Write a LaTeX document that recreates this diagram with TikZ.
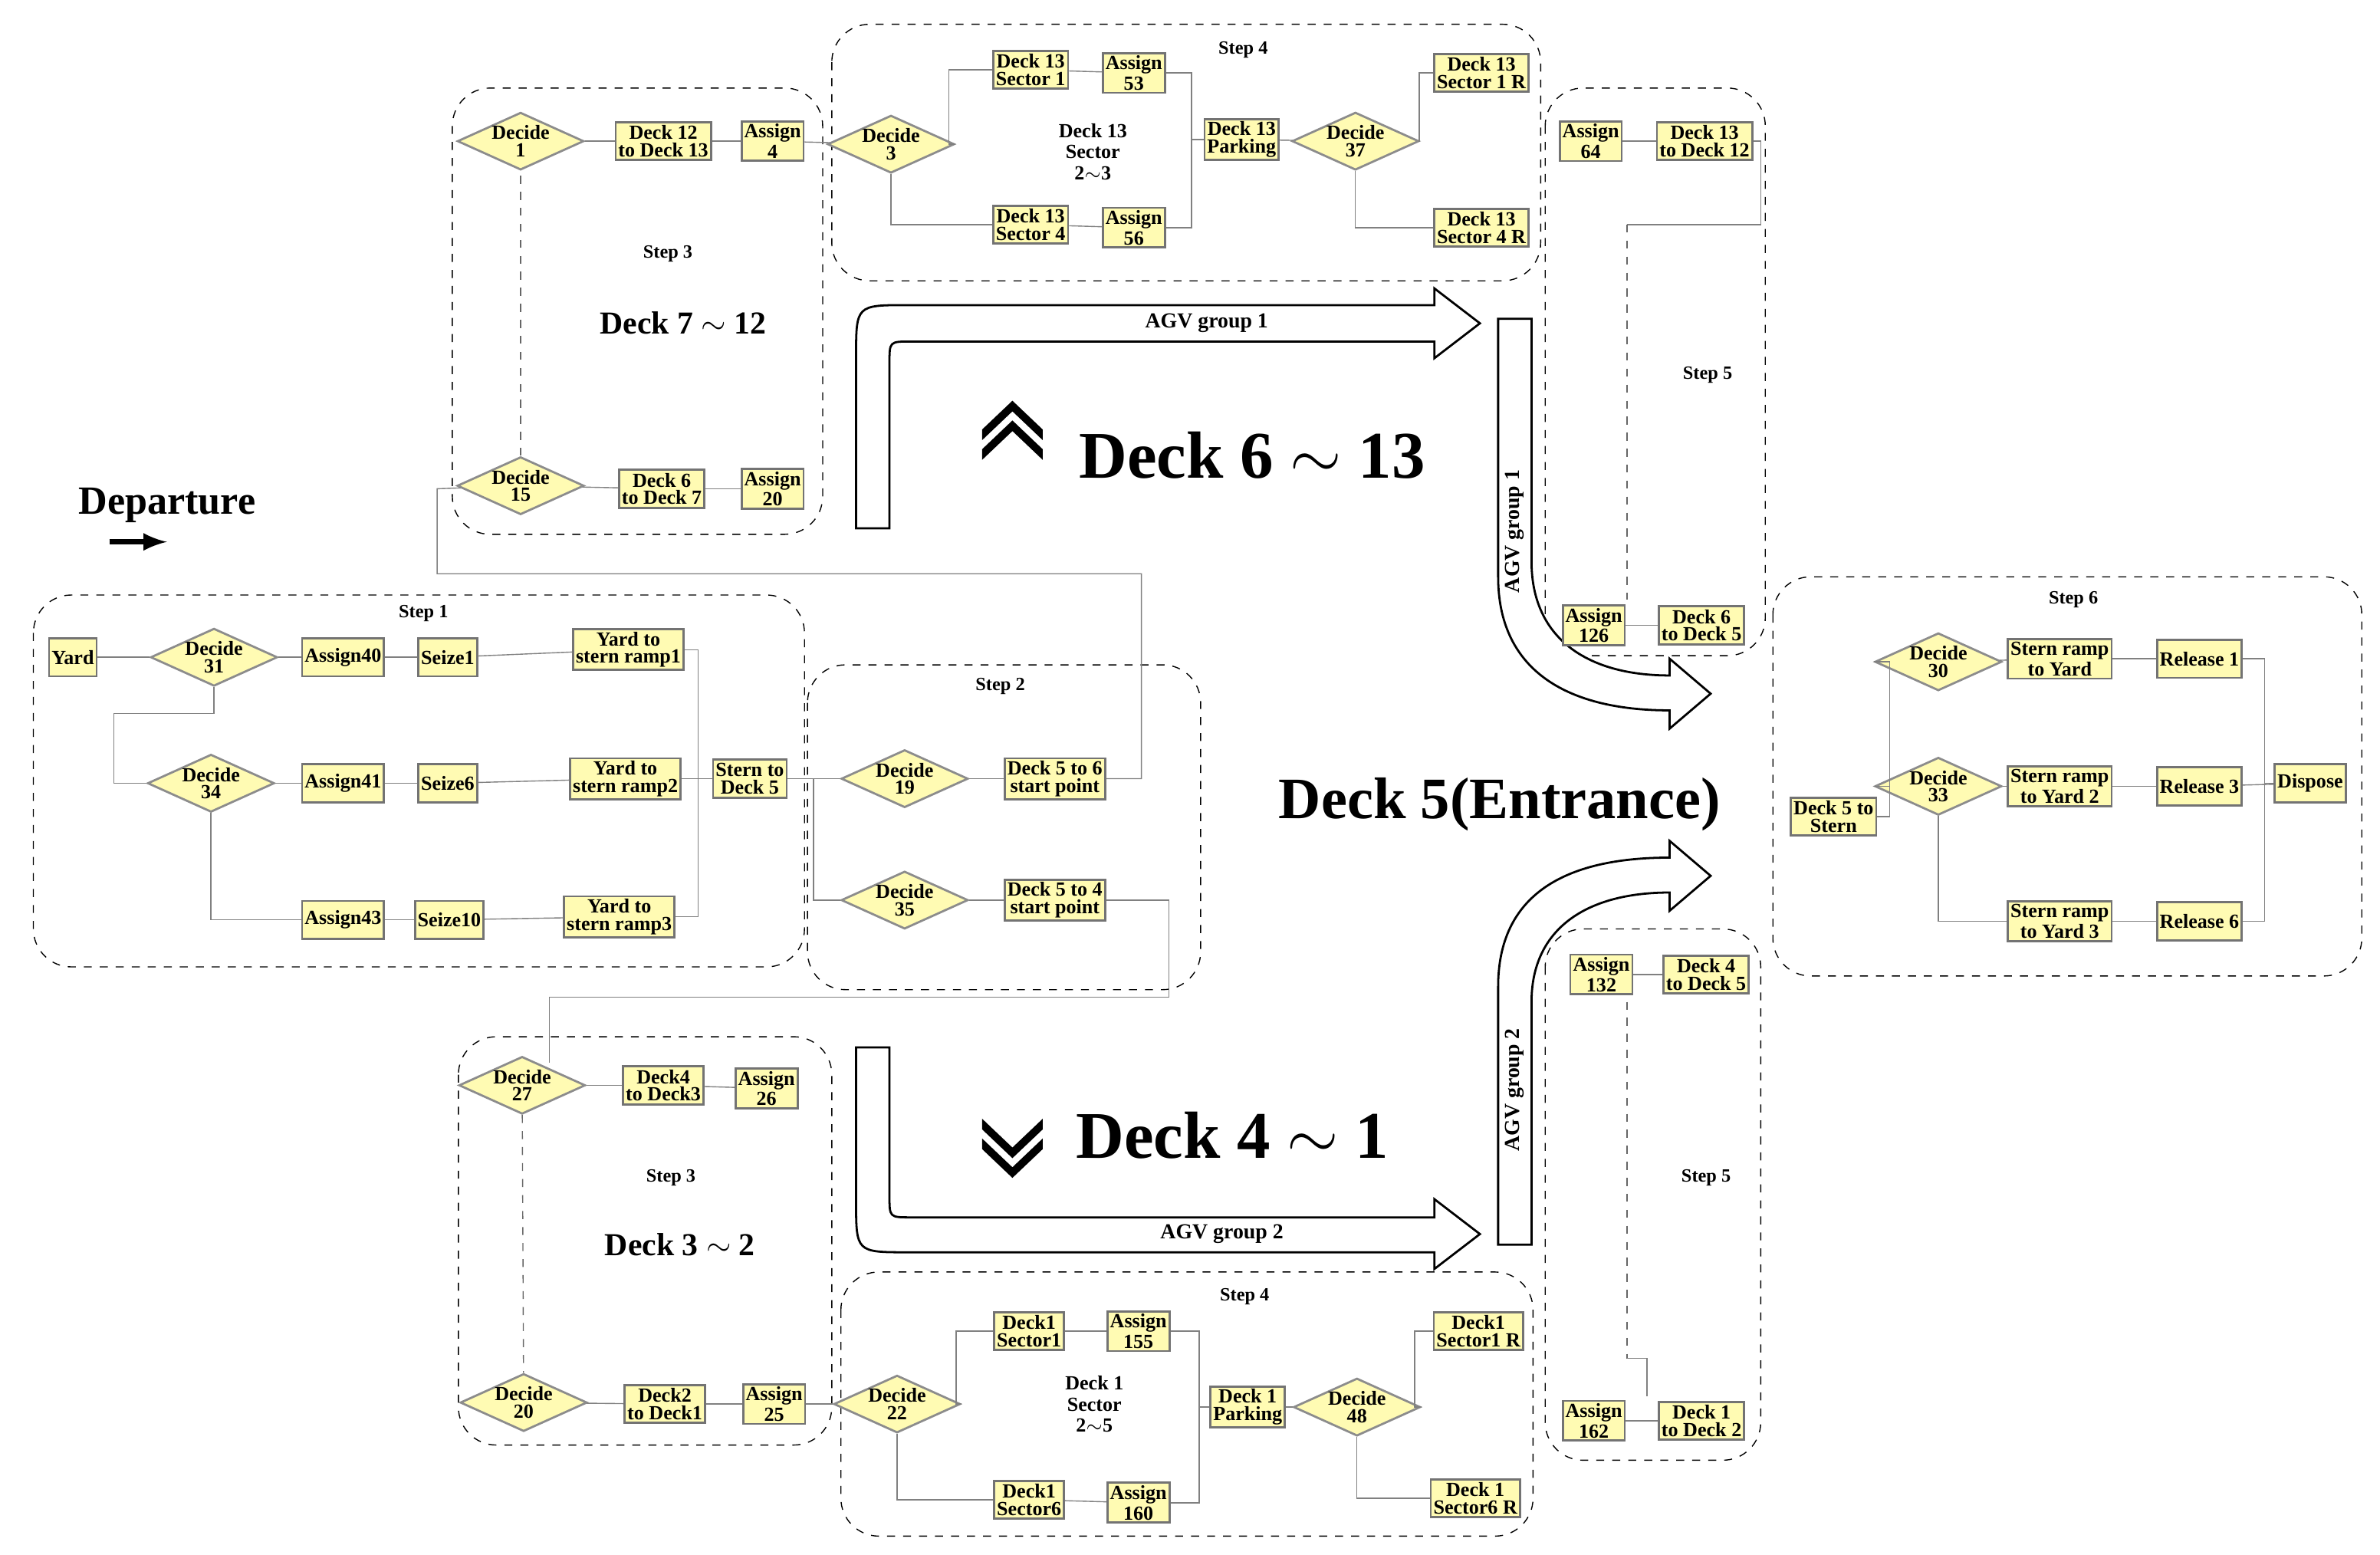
\documentclass[tikz,border=0pt]{standalone}
\usepackage{fontspec}
\setmainfont{Liberation Serif}
\usetikzlibrary{positioning}
\usetikzlibrary{shapes.geometric}
\tikzset{
  module/.style   = { rectangle, draw=black!55, thick, fill=yellow!30, inner sep=1pt,
                      minimum height=0.5cm, align=center, font=\fontsize{7.5}{6.5}\selectfont\bfseries },
  decide/.style   = { diamond, aspect=2.2, draw=black!45, thick, fill=yellow!30, inner sep=0pt,
                      minimum width=1.15cm, minimum height=0.7cm, align=center,
                      font=\fontsize{7.5}{6.5}\selectfont\bfseries },
  sector/.style   = { align=center, inner sep=0pt, font=\fontsize{7.5}{8}\selectfont\bfseries },
  group/.style    = { draw=black, dashed, rounded corners=5mm },
  steplbl/.style  = { font=\fontsize{7}{7}\selectfont\bfseries },
  bigtxt/.style   = { font=\fontsize{25}{25}\selectfont\bfseries },
  midtxt/.style   = { font=\fontsize{12}{12}\selectfont\bfseries },
  link/.style     = { draw=black!50, thin },
  dlink/.style    = { draw=black!60, thin, dashed },
  agv/.style      = { draw=black, thick, fill=white },
}
\begin{document}
\begin{tikzpicture}[x=0.02cm, y=-0.02cm]
  \useasboundingbox (0,0) rectangle (1568,1024);

  % groups
  \draw [group] (22,392)   rectangle (530,637);
  \draw [group] (532,438)  rectangle (791,652);
  \draw [group] (298,58)   rectangle (542,352);
  \draw [group] (548,16)   rectangle (1015,185);
  \draw [group] (1018,58)  rectangle (1163,432);
  \draw [group] (1168,380) rectangle (1556,643);
  \draw [group] (302,683)  rectangle (548,952);
  \draw [group] (554,838)  rectangle (1010,1012);
  \draw [group] (1018,612) rectangle (1160,962);

  \node [steplbl] at (279,404)  {Step 1};
  \node [steplbl] at (659,452)  {Step 2};
  \node [steplbl] at (440,167)  {Step 3};
  \node [steplbl] at (819,33)   {Step 4};
  \node [steplbl] at (1125,247) {Step 5};
  \node [steplbl] at (1366,395) {Step 6};
  \node [steplbl] at (442,776)  {Step 3};
  \node [steplbl] at (820,854)  {Step 4};
  \node [steplbl] at (1124,776) {Step 5};

  % AGV arrows
  \draw [agv] (564,348) -- (564,235) .. controls (564,201) .. (598,201) -- (945,201) -- (945,190)
      -- (975,213) -- (945,236) -- (945,225) -- (600,225) .. controls (586,225) .. (586,239) -- (586,348) -- cycle;
  \draw [agv] (987,210) -- (987,380) .. controls (987,440) and (1030,468) .. (1100,468) -- (1100,480)
      -- (1127,457) -- (1100,434) -- (1100,445) .. controls (1045,445) and (1009,420) .. (1009,370) -- (1009,210) -- cycle;
  \draw [agv] (564,690) -- (564,791) .. controls (564,825) .. (598,825) -- (945,825) -- (945,836)
      -- (975,813) -- (945,790) -- (945,802) -- (600,802) .. controls (586,802) .. (586,788) -- (586,690) -- cycle;
  \draw [agv] (987,820) -- (987,650) .. controls (987,590) and (1030,565) .. (1100,565) -- (1100,554)
      -- (1127,577) -- (1100,600) -- (1100,588) .. controls (1045,588) and (1009,612) .. (1009,660) -- (1009,820) -- cycle;
  \node [steplbl,font=\fontsize{8}{8}\selectfont\bfseries] at (795,213) {AGV group 1};
  \node [steplbl,font=\fontsize{8}{8}\selectfont\bfseries] at (805,813) {AGV group 2};
  \node [steplbl,font=\fontsize{8}{8}\selectfont\bfseries,rotate=90] at (998,350) {AGV group 1};
  \node [steplbl,font=\fontsize{8}{8}\selectfont\bfseries,rotate=90] at (998,718) {AGV group 2};

  % big texts
  \node [bigtxt] at (825,300) {Deck 6 $\sim$ 13};
  \node [bigtxt] at (812,748) {Deck 4 $\sim$ 1};
  \node [bigtxt,font=\fontsize{22}{22}\selectfont\bfseries] at (988,530) {Deck 5(Entrance)};
  \node [midtxt] at (450,213) {Deck 7 $\sim$ 12};
  \node [midtxt] at (448,820) {Deck 3 $\sim$ 2};
  \node [midtxt,font=\fontsize{15}{15}\selectfont\bfseries] (dep) at (110,333) {Departure};
  \draw [-latex, line width=2pt] (72,357) -- (110,357);
  \foreach \dy in {0,13} {
    \fill (647,{303-\dy}) -- (667,{284-\dy}) -- (687,{303-\dy}) -- (687,{296-\dy}) -- (667,{277-\dy}) -- (647,{296-\dy}) -- cycle;
    \fill (647,{737+\dy}) -- (667,{756+\dy}) -- (687,{737+\dy}) -- (687,{744+\dy}) -- (667,{763+\dy}) -- (647,{744+\dy}) -- cycle;
  }

  % step 1
  \node (yard) [module] at (48,433)  {Yard};
  \node (d31)  [decide] at (141,433) {Decide\\31};
  \node (a40)  [module] at (226,433) {Assign40};
  \node (s1)   [module] at (295,433) {Seize1};
  \node (yr1)  [module] at (414,428) {Yard to\\stern ramp1};
  \node (d34)  [decide] at (139,516) {Decide\\34};
  \node (a41)  [module] at (226,516) {Assign41};
  \node (s6)   [module] at (295,516) {Seize6};
  \node (yr2)  [module] at (412,513) {Yard to\\stern ramp2};
  \node (a43)  [module] at (226,606) {Assign43};
  \node (s10)  [module] at (296,606) {Seize10};
  \node (yr3)  [module] at (408,604) {Yard to\\stern ramp3};
  \node (sd5)  [module] at (494,513) {Stern to\\Deck 5};

  % step 2
  \node (d19)  [decide] at (596,513) {Decide\\19};
  \node (d56)  [module] at (695,513) {Deck 5 to 6\\start point};
  \node (d35)  [decide] at (596,593) {Decide\\35};
  \node (d54)  [module] at (695,593) {Deck 5 to 4\\start point};

  % step 3 top
  \node (d1)   [decide] at (343,93)  {Decide\\1};
  \node (t1213)[module] at (437,93)  {Deck 12\\to Deck 13};
  \node (a4)   [module] at (509,93)  {Assign\\4};
  \node (d15)  [decide] at (343,320) {Decide\\15};
  \node (t67)  [module] at (436,322) {Deck 6\\to Deck 7};
  \node (a20)  [module] at (509,322) {Assign\\20};

  % step 4 top
  \node (d3)   [decide] at (587,95)  {Decide\\3};
  \node (s131) [module] at (679,46)  {Deck 13\\Sector 1};
  \node (a53)  [module] at (747,48)  {Assign\\53};
  \node (sec13)[sector] at (720,100) {Deck 13\\Sector\\2$\sim$3};
  \node (s134) [module] at (679,148) {Deck 13\\Sector 4};
  \node (a56)  [module] at (747,150) {Assign\\56};
  \node (p13)  [module] at (818,92)  {Deck 13\\Parking};
  \node (d37)  [decide] at (893,93)  {Decide\\37};
  \node (r131) [module] at (976,48)  {Deck 13\\Sector 1 R};
  \node (r134) [module] at (976,150) {Deck 13\\Sector 4 R};

  % step 5 top
  \node (a64)  [module] at (1048,93)  {Assign\\64};
  \node (t1312)[module] at (1123,93)  {Deck 13\\to Deck 12};
  \node (a126) [module] at (1050,412) {Assign\\126};
  \node (t65)  [module] at (1121,412) {Deck 6\\to Deck 5};

  % step 6
  \node (d5s)  [module] at (1208,538) {Deck 5 to\\Stern};
  \node (d30)  [decide] at (1277,436) {Decide\\30};
  \node (sy1)  [module] at (1357,434) {Stern ramp\\to Yard};
  \node (rl1)  [module] at (1449,434) {Release 1};
  \node (d33)  [decide] at (1277,518) {Decide\\33};
  \node (sy2)  [module] at (1357,518) {Stern ramp\\to Yard 2};
  \node (rl3)  [module] at (1449,518) {Release 3};
  \node (disp) [module] at (1522,516) {Dispose};
  \node (sy3)  [module] at (1357,607) {Stern ramp\\to Yard 3};
  \node (rl6)  [module] at (1449,607) {Release 6};

  % step 3 bottom
  \node (d27)  [decide] at (344,715) {Decide\\27};
  \node (t43)  [module] at (437,715) {Deck4\\to Deck3};
  \node (a26)  [module] at (505,717) {Assign\\26};
  \node (d20)  [decide] at (345,924) {Decide\\20};
  \node (t21)  [module] at (438,925) {Deck2\\to Deck1};
  \node (a25)  [module] at (510,925) {Assign\\25};

  % step 4 bottom
  \node (d22)  [decide] at (591,925) {Decide\\22};
  \node (s11)  [module] at (678,877) {Deck1\\Sector1};
  \node (a155) [module] at (750,877) {Assign\\155};
  \node (sec1) [sector] at (721,925) {Deck 1\\Sector\\2$\sim$5};
  \node (s16)  [module] at (678,988) {Deck1\\Sector6};
  \node (a160) [module] at (750,990) {Assign\\160};
  \node (p1)   [module] at (822,927) {Deck 1\\Parking};
  \node (d48)  [decide] at (894,927) {Decide\\48};
  \node (r11)  [module] at (974,877) {Deck1\\Sector1 R};
  \node (r16)  [module] at (972,987) {Deck 1\\Sector6 R};

  % step 5 bottom
  \node (a132) [module] at (1055,642) {Assign\\132};
  \node (t45)  [module] at (1124,642) {Deck 4\\to Deck 5};
  \node (a162) [module] at (1050,936) {Assign\\162};
  \node (t12)  [module] at (1121,936) {Deck 1\\to Deck 2};

  % connectors
  \draw [link] (yard) -- (d31);  \draw [link] (d31) -- (a40);
  \draw [link] (a40) -- (s1);    \draw [link] (s1) -- (yr1);
  \draw [link] (d31) |- (75,470) |- (d34);
  \draw [link] (d34) -- (a41);   \draw [link] (a41) -- (s6);   \draw [link] (s6) -- (yr2);
  \draw [link] (d34) |- (a43);   \draw [link] (a43) -- (s10);  \draw [link] (s10) -- (yr3);
  \draw [link] (yr1) -| (460,604) -- (yr3);
  \draw [link] (yr2) -- (sd5);   \draw [link] (sd5) -- (d19);
  \draw [link] (d19) -- (d56);   \draw [link] (sd5.east) -| (536,593) -- (d35);
  \draw [link] (d35) -- (d54);
  \draw [link] (d56) -| (752,378) -| (288,322) -- (d15);
  \draw [link] (d54) -| (770,657) -| (362,700);
  \draw [link] (d15) -- (t67);   \draw [link] (t67) -- (a20);
  \draw [dlink] (d15) -- (d1);
  \draw [link] (d1) -- (t1213);  \draw [link] (t1213) -- (a4);  \draw [link] (a4) -- (d3);
  \draw [link] (d3) -| (625,46) -- (s131);  \draw [link] (d3) |- (s134);
  \draw [link] (s131) -- (a53);  \draw [link] (s134) -- (a56);
  \draw [link] (a53) -| (785,92) -- (p13);  \draw [link] (a56) -| (785,92);
  \draw [link] (p13) -- (d37);
  \draw [link] (d37) -| (935,48) -- (r131);  \draw [link] (d37.south) |- (r134);
  \draw [link] (a64) -- (t1312); \draw [link] (t1312.east) -| (1160,148) -- (1072,148);
  \draw [dlink] (1072,148) -- (1072,395);
  \draw [link] (a126) -- (t65);
  \draw [link] (d5s) -| (1245,436) -- (d30);  \draw [link] (d5s) -| (1245,518) -- (d33);
  \draw [link] (d30) -- (sy1);   \draw [link] (sy1) -- (rl1);
  \draw [link] (d33) -- (sy2);   \draw [link] (sy2) -- (rl3);   \draw [link] (rl3) -- (disp);
  \draw [link] (d33) |- (sy3);   \draw [link] (sy3) -- (rl6);
  \draw [link] (rl1) -| (1492,607) -- (rl6);  \draw [link] (1492,516) -- (disp);
  \draw [link] (d27) -- (t43);   \draw [link] (t43) -- (a26);
  \draw [dlink] (d27) -- (d20);
  \draw [link] (d20) -- (t21);   \draw [link] (t21) -- (a25);   \draw [link] (a25) -- (d22);
  \draw [link] (d22) -| (630,877) -- (s11);  \draw [link] (d22) |- (s16);
  \draw [link] (s11) -- (a155);  \draw [link] (s16) -- (a160);
  \draw [link] (a155) -| (790,927) -- (p1);  \draw [link] (a160) -| (790,927);
  \draw [link] (p1) -- (d48);
  \draw [link] (d48) -| (932,877) -- (r11);  \draw [link] (d48.south) |- (r16);
  \draw [link] (a132) -- (t45);  \draw [dlink] (1072,660) -- (1072,895);
  \draw [link] (1072,895) -| (1085,920);
  \draw [link] (a162) -- (t12);
\end{tikzpicture}
\end{document}
